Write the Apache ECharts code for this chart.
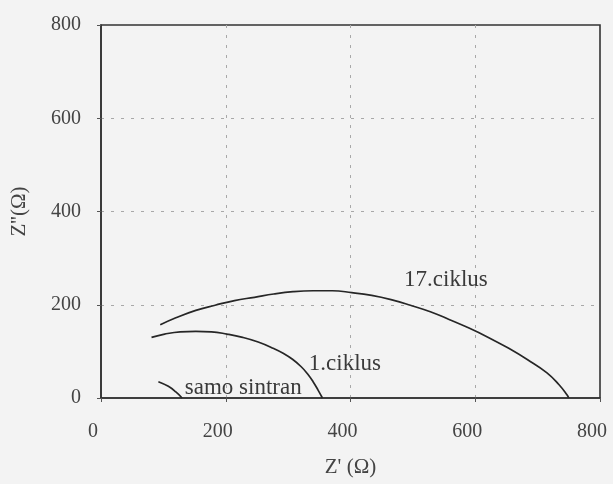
<!DOCTYPE html>
<html>
<head>
<meta charset="utf-8">
<script src="https://cdn.jsdelivr.net/npm/echarts@6/dist/echarts.min.js"></script>
<style>
html,body{margin:0;padding:0;background:#f3f3f3;}
#c{width:613px;height:484px;}
</style>
</head>
<body>
<div id="c"></div>
<script>
// Nyquist data: [Z', Z'']
const ciklus17 = [[95,157],[120,172],[152,188],[183,199],[214,209],[246,216],[277,223],[308,228],[340,230],[371,230],[402,226],[434,220],[465,211],[496,199],[528,185],[559,168],[590,150],[621,130],[653,107],[684,82],[715,54],[734,29],[747,7],[750,0]];
const ciklus1 = [[81,130],[102,137],[127,142],[152,143],[177,142],[202,137],[227,130],[252,120],[277,106],[292,96],[307,83],[321,67],[331,52],[340,35],[348,17],[355,0]];
const samoSintran = [[92,35],[108,25],[120,13],[130,0]];
const xTicks = [0,200,400,600,800];
const yTicks = [0,200,400,600,800];
const seriesNames = ['17.ciklus','1.ciklus','samo sintran'];

const chart = echarts.init(document.getElementById('c'), null, {renderer:'canvas'});
const font = '"Liberation Serif","DejaVu Serif",serif';
const txt = '#444';
const lineC = '#262626';
function mk(name, data, labelCoord){
  return {
    name, type:'line', data, smooth:0.45, showSymbol:false, symbol:'none',
    lineStyle:{color:lineC, width:1.7}, silent:true,
    markPoint:{symbol:'circle', symbolSize:0, silent:true,
      data:[{coord:labelCoord, value:name}],
      label:{show:true, position:'inside', formatter:name, color:'#3a3a3a', fontFamily:font, fontSize:23}}
  };
}
chart.setOption({
  backgroundColor:'#f3f3f3',
  animation:false,
  grid:{left:101, right:13, top:25, bottom:86, containLabel:false, outerBoundsMode:'none',
    show:true, borderColor:'#333', borderWidth:1.6, backgroundColor:'transparent'},
  xAxis:{type:'value', min:xTicks[0], max:xTicks[xTicks.length-1], interval:200,
    name:"Z' (\u03a9)", nameLocation:'middle', nameGap:59,
    nameTextStyle:{color:txt, fontFamily:font, fontSize:21},
    axisLine:{show:true, onZero:false, lineStyle:{color:'#333', width:1.6}},
    axisTick:{show:true, length:4, lineStyle:{color:'#555'}},
    axisLabel:{color:txt, fontFamily:font, fontSize:20, margin:24, padding:[0,16,0,0]},
    splitLine:{show:true, showMinLine:false, showMaxLine:false, lineStyle:{color:'#a8a8a8', type:[3,7], width:1}}},
  yAxis:{type:'value', min:yTicks[0], max:yTicks[yTicks.length-1], interval:200,
    name:"Z''(\u03a9)", nameLocation:'middle', nameGap:71, nameRotate:90,
    nameTextStyle:{color:txt, fontFamily:font, fontSize:21},
    axisLine:{show:true, onZero:false, lineStyle:{color:'#333', width:1.6}},
    axisTick:{show:true, length:4, lineStyle:{color:'#555'}},
    axisLabel:{color:txt, fontFamily:font, fontSize:20, margin:20},
    splitLine:{show:true, showMinLine:false, showMaxLine:false, lineStyle:{color:'#a8a8a8', type:[3,7], width:1}}},
  series:[
    mk(seriesNames[0], ciklus17, [553,254]),
    mk(seriesNames[1], ciklus1, [391,74]),
    mk(seriesNames[2], samoSintran, [228,21])
  ]
});
</script>
</body>
</html>
